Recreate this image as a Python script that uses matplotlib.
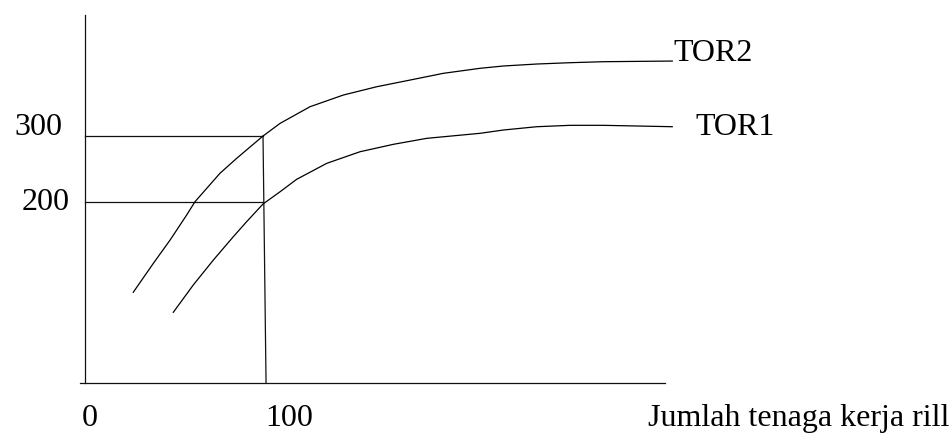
import matplotlib.pyplot as plt

plt.rcParams['font.family'] = ['Liberation Serif', 'DejaVu Serif']

# curve readings (x: workers, y: output)
tor2_x = [27.1, 38.4, 47.8, 57.1, 61.8, 75.8, 85.2, 100, 109.6, 126.4, 145.1, 163.9,
          182.6, 201.3, 221.9, 235.0, 253.8, 272.5, 291.2, 329.9]
tor2_y = [63.2, 107.1, 142.4, 180.3, 200.5, 243.5, 266.2, 300, 319.2, 344.4, 362.1, 374.7,
          384.8, 395.0, 402.6, 406.1, 409.1, 411.1, 412.6, 413.6]

tor1_x = [49.6, 60.8, 72.1, 83.3, 90.8, 100, 109.6, 118.9, 135.8, 154.5, 173.2, 192.0,
          221.9, 235.0, 253.8, 272.5, 291.2, 329.9]
tor1_y = [32.9, 74.2, 112.1, 147.4, 170.2, 197, 215.6, 234.4, 258.6, 276.2, 287.4, 296.5,
          304.1, 309.1, 314.1, 316.2, 316.2, 314.1]

ref_x = 100
ref_levels = [200, 300]
y_labels = ['300', '200']
x_labels = ['0', '100']
x_title = 'Jumlah tenaga kerja rill'

# axis extents (sketch is not drawn to scale at the bottom)
y_bottom = -74
y_top = 483
x_left = -3
x_right = 326

fig = plt.figure(figsize=(9.53, 4.34), dpi=100)
ax = fig.add_axes([0, 0, 1, 1])
ax.set_xlim(-47.75, 487.6)
ax.set_ylim(-151.5, 506.1)
ax.axis('off')

lc = '#111111'
lw = 0.9

# axes
ax.plot([0, 0], [y_bottom, y_top], color=lc, lw=lw)
ax.plot([x_left, x_right], [y_bottom, y_bottom], color=lc, lw=lw)

# guide lines
for lev in ref_levels:
    ax.plot([0, ref_x], [lev, lev], color=lc, lw=lw)
ax.plot([ref_x, ref_x + 1.7], [max(ref_levels), y_bottom], color=lc, lw=lw)

# curves
ax.plot(tor2_x, tor2_y, color='black', lw=lw, solid_joinstyle='round')
ax.plot(tor1_x, tor1_y, color='black', lw=lw, solid_joinstyle='round')

fs = 23
kw = dict(fontsize=fs, va='baseline', ha='left')
ax.text(-39.9, 301.5, y_labels[0], **kw)
ax.text(-35.4, 187.9, y_labels[1], **kw)
ax.text(-1.7, -139.4, x_labels[0], **kw)
ax.text(101.1, -139.4, x_labels[1], **kw)
ax.text(316.3, -139.4, x_title, **kw)
ax.text(330.3, 413.6, 'TOR2', **kw)
ax.text(342.7, 301.5, 'TOR1', **kw)

fig.savefig('out.png', dpi=100)
